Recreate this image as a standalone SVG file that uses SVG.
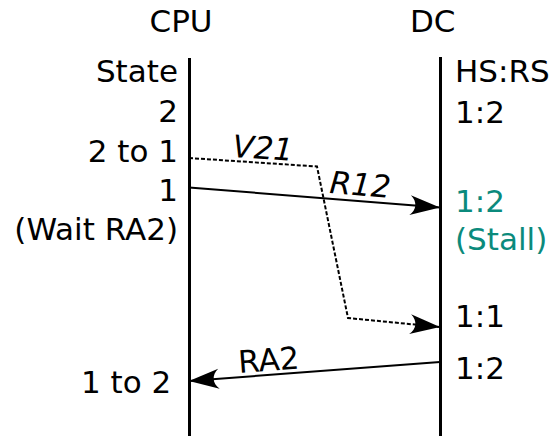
<svg xmlns="http://www.w3.org/2000/svg" width="553" height="436" viewBox="0 0 553 436">
<style>
text{font-family:"DejaVu Sans","Liberation Sans",sans-serif;font-size:31px;fill:#000}
.r{text-anchor:end}
.teal{fill:#0b8a7c}
.it{font-style:oblique}
.life{stroke:#000;stroke-width:3;fill:none}
.msg{stroke:#000;stroke-width:2;fill:none}
.dash{stroke-dasharray:4 2}
</style>
<defs>
<marker id="ah" markerUnits="userSpaceOnUse" markerWidth="34" markerHeight="24" viewBox="-31 -12 34 24" refX="0" refY="0" orient="auto">
<path d="M0,0 L-30,-10 C-23,-4 -23,4 -30,10 Z" fill="#000"/>
</marker>
</defs>
<g id="cpu">
<text x="181" y="32" text-anchor="middle">CPU</text>
<line class="life" x1="189.5" y1="58" x2="189.5" y2="436"/>
<text class="r" x="178" y="82">State</text>
<text class="r" x="178" y="122">2</text>
<text class="r" x="178" y="162">2 to 1</text>
<text class="r" x="178" y="201">1</text>
<text class="r" x="178" y="240">(Wait RA2)</text>
<text x="81" y="393">1 to 2</text>
</g>
<g id="dc">
<text x="410" y="32">DC</text>
<line class="life" x1="440.5" y1="57" x2="440.5" y2="436"/>
<text x="455" y="82">HS:RS</text>
<text x="455" y="123">1:2</text>
<text class="teal" x="455" y="212">1:2</text>
<text class="teal" x="455" y="250">(Stall)</text>
<text x="455" y="327">1:1</text>
<text x="455" y="379">1:2</text>
</g>
<g id="connectors">
<g id="v21">
<path class="msg dash" d="M189,158 L317,166.5 L348,318 L440,327" marker-end="url(#ah)"/>
<text class="it" x="232" y="157" transform="rotate(3.6 232 157)">V21</text>
</g>
<g id="r12">
<path class="msg" d="M189,187.5 L440,207.5" marker-end="url(#ah)"/>
<text class="it" x="329" y="193" transform="rotate(4.6 329 193)">R12</text>
</g>
<g id="ra2">
<path class="msg" d="M440,362 L189,381" marker-end="url(#ah)"/>
<text x="239" y="373" transform="rotate(-4.3 239 373)">RA2</text>
</g>
</g>
</svg>
